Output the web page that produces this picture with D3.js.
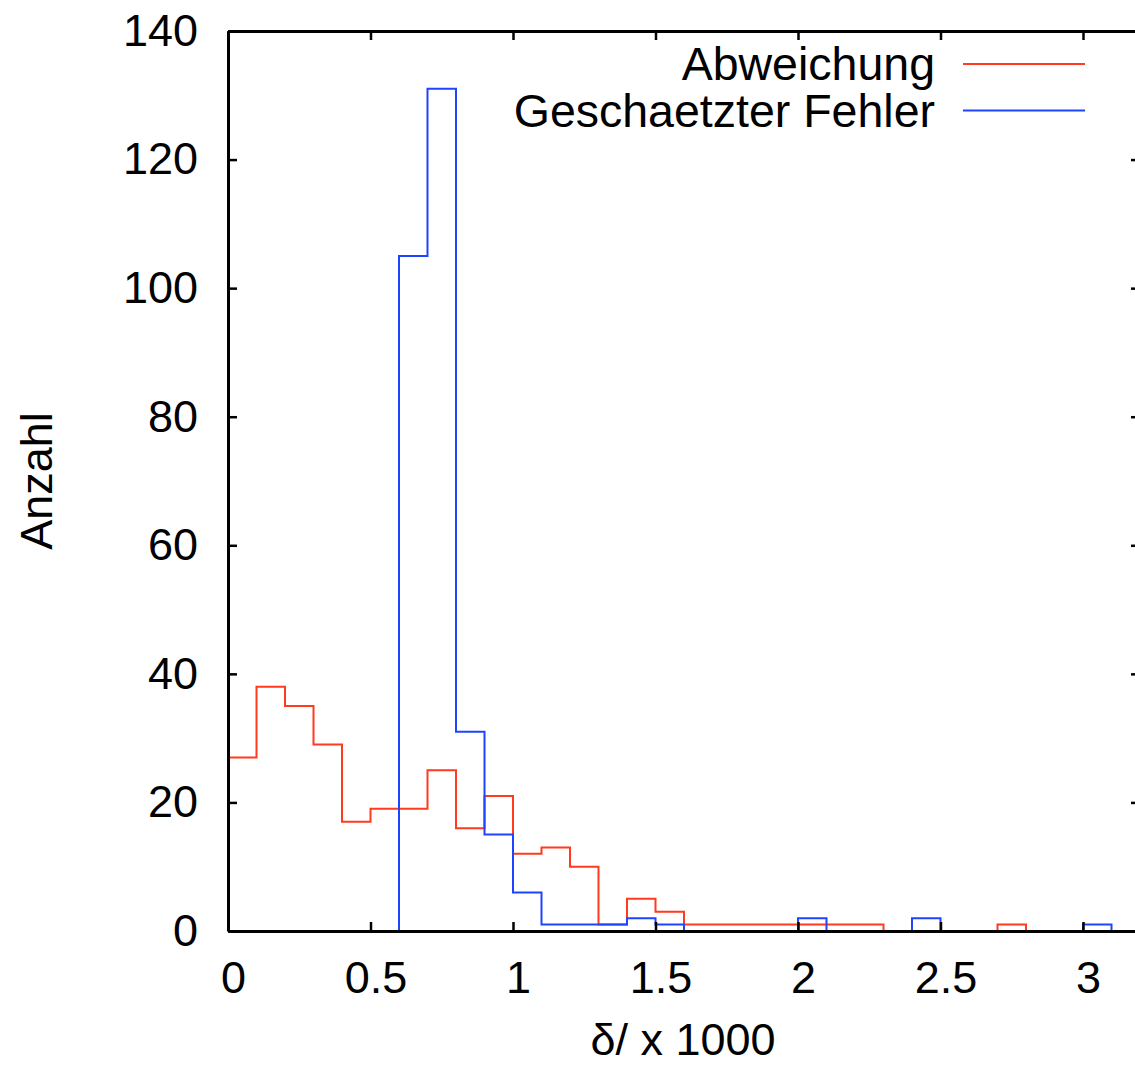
<!DOCTYPE html>
<html>
<head>
<meta charset="utf-8">
<script src="https://d3js.org/d3.v7.min.js"></script>
<style>
  body { margin: 0; background: #fff; }
  text { font-family: "Liberation Sans", Arial, Helvetica, sans-serif; }
</style>
</head>
<body>
<div id="chart"></div>
<script>
// bin left edges (delta / x 1000), bin width 0.1
const binStarts = [0.0, 0.1, 0.2, 0.3, 0.4, 0.5, 0.6, 0.7, 0.8, 0.9,
                   1.0, 1.1, 1.2, 1.3, 1.4, 1.5, 1.6, 1.7, 1.8, 1.9,
                   2.0, 2.1, 2.2, 2.3, 2.4, 2.5, 2.6, 2.7, 2.8, 2.9,
                   3.0, 3.1];
const binEnd = 3.2;

const abweichung = [27, 38, 35, 29, 17, 19, 19, 25, 16, 21,
                    12, 13, 10, 1, 5, 3, 1, 1, 1, 1,
                    1, 1, 1, 0, 0, 0, 0, 1, 0, 0,
                    0, 0];
const fehler = [0, 0, 0, 0, 0, 0, 105, 131, 31, 15,
                6, 1, 1, 1, 2, 1, 0, 0, 0, 0,
                2, 0, 0, 0, 2, 0, 0, 0, 0, 0,
                1, 0];

const seriesNames = ["Abweichung", "Geschaetzter Fehler"];
const seriesColors = ["#ff3a1e", "#1f44ff"];
const xTicks = [0, 0.5, 1, 1.5, 2, 2.5, 3];
const yTicks = [0, 20, 40, 60, 80, 100, 120, 140];

const margin = {top: 31, right: -5, bottom: 135, left: 228};
const W = 1135, H = 1066;
const width = W - margin.left - margin.right;
const height = H - margin.top - margin.bottom;

const svg = d3.select("#chart").append("svg")
    .attr("width", W)
    .attr("height", H);

const chart = svg.append("g")
    .attr("transform", "translate(" + margin.left + "," + margin.top + ")");

const x = d3.scaleLinear().domain([0, binEnd]).range([0, width]);
const y = d3.scaleLinear().domain([0, 140]).range([height, 0]);

function stepData(vals) {
  const pts = binStarts.map((b, i) => ({x: b, y: vals[i]}));
  pts.push({x: binEnd, y: 0});
  return pts;
}

const line = d3.line()
    .x(d => x(d.x))
    .y(d => y(d.y))
    .curve(d3.curveStepAfter);

[abweichung, fehler].forEach((vals, i) => {
  chart.append("path")
    .datum(stepData(vals))
    .attr("fill", "none")
    .attr("stroke", seriesColors[i])
    .attr("stroke-width", 2)
    .attr("d", line);
});

const fontSize = 45;

// bottom axis
const xAxis = chart.append("g")
    .attr("transform", "translate(0," + height + ")")
    .call(d3.axisBottom(x).tickValues(xTicks).tickSizeInner(-9).tickSizeOuter(0).tickPadding(30)
      .tickFormat(d3.format("")));
// left axis
const yAxis = chart.append("g")
    .call(d3.axisLeft(y).tickValues(yTicks).tickSizeInner(-9).tickSizeOuter(0).tickPadding(30));
// mirror axes
const xTop = chart.append("g")
    .call(d3.axisTop(x).tickValues(xTicks).tickSizeInner(-9).tickSizeOuter(0).tickFormat(""));
const yRight = chart.append("g")
    .attr("transform", "translate(" + width + ",0)")
    .call(d3.axisRight(y).tickValues(yTicks).tickSizeInner(-9).tickSizeOuter(0).tickFormat(""));

[xAxis, yAxis, xTop, yRight].forEach(a => {
  a.attr("font-family", "'Liberation Sans', Arial, Helvetica, sans-serif")
   .attr("font-size", fontSize);
  a.select(".domain").attr("stroke", "#000").attr("stroke-width", 3);
  a.selectAll(".tick line").attr("stroke", "#000").attr("stroke-width", 2.5);
  a.selectAll(".tick text").attr("fill", "#000");
});
xAxis.selectAll(".tick text").attr("dx", 5);

// axis titles
chart.append("text")
    .attr("transform", "translate(" + (52 - margin.left) + "," + (height / 2) + ") rotate(-90)")
    .attr("text-anchor", "middle")
    .attr("font-size", fontSize)
    .text("Anzahl");

chart.append("text")
    .attr("x", 683 - margin.left)
    .attr("y", 1055 - margin.top)
    .attr("text-anchor", "middle")
    .attr("font-size", fontSize)
    .text("δ/ x 1000");

// legend
const legend = chart.append("g")
    .selectAll("g")
    .data(seriesNames)
    .enter().append("g")
    .attr("transform", (d, i) => "translate(0," + (64 + i * 46.5 - margin.top) + ")");

legend.append("text")
    .attr("x", 935 - margin.left)
    .attr("y", 16)
    .attr("text-anchor", "end")
    .attr("font-size", 46.5)
    .text(d => d);

legend.append("line")
    .attr("x1", 963 - margin.left)
    .attr("x2", 1085 - margin.left)
    .attr("stroke", (d, i) => seriesColors[i])
    .attr("stroke-width", 2);
</script>
</body>
</html>
